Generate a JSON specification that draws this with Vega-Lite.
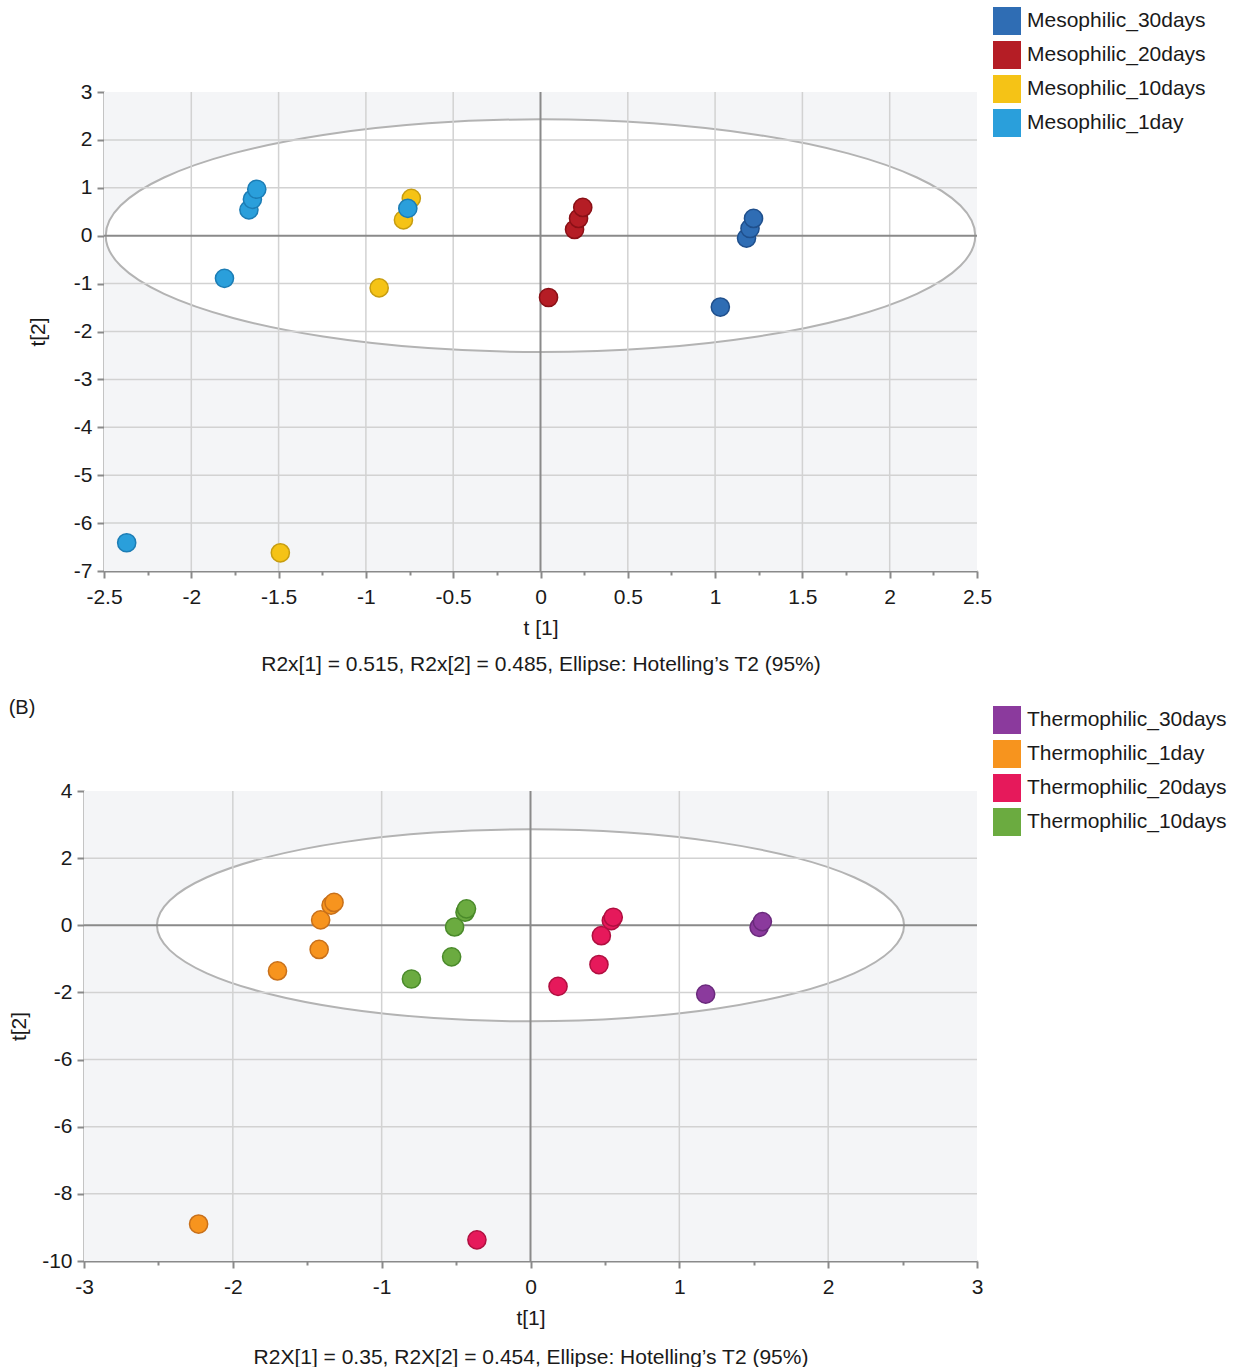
{
  "$schema": "https://vega.github.io/schema/vega-lite/v6.json",
  "padding": {"left": 8, "top": 7, "right": 0, "bottom": 0},
  "spacing": 24,
  "config": {
    "view": {"stroke": null},
    "font": "Liberation Sans",
    "axis": {"labelFont": "Liberation Sans", "titleFont": "Liberation Sans", "labelFontSize": 21, "titleFontSize": 21, "titleFontWeight": "normal", "labelColor": "#1a1a1a", "titleColor": "#1a1a1a", "domainColor": "#8a8a8a", "domainWidth": 2, "tickColor": "#8a8a8a", "tickWidth": 2, "grid": false, "labelFlush": false, "labelOverlap": false}
  },
  "datasets": {
    "bgA": [{"x": -2.5, "x2": 2.5, "y": -7, "y2": 3}],
    "bgB": [{"x": -3, "x2": 3, "y": -10, "y2": 4}],
    "ellA": [
      {"i": 0, "x": 2.49, "y": 0}, {"i": 1, "x": 2.405, "y": 0.629}, {"i": 2, "x": 2.156, "y": 1.215}, {"i": 3, "x": 1.761, "y": 1.718},
      {"i": 4, "x": 1.245, "y": 2.104}, {"i": 5, "x": 0.644, "y": 2.347}, {"i": 6, "x": 0, "y": 2.43}, {"i": 7, "x": -0.644, "y": 2.347},
      {"i": 8, "x": -1.245, "y": 2.104}, {"i": 9, "x": -1.761, "y": 1.718}, {"i": 10, "x": -2.156, "y": 1.215}, {"i": 11, "x": -2.405, "y": 0.629},
      {"i": 12, "x": -2.49, "y": 0}, {"i": 13, "x": -2.405, "y": -0.629}, {"i": 14, "x": -2.156, "y": -1.215}, {"i": 15, "x": -1.761, "y": -1.718},
      {"i": 16, "x": -1.245, "y": -2.104}, {"i": 17, "x": -0.644, "y": -2.347}, {"i": 18, "x": 0, "y": -2.43}, {"i": 19, "x": 0.644, "y": -2.347},
      {"i": 20, "x": 1.245, "y": -2.104}, {"i": 21, "x": 1.761, "y": -1.718}, {"i": 22, "x": 2.156, "y": -1.215}, {"i": 23, "x": 2.405, "y": -0.629}
    ],
    "ellB": [
      {"i": 0, "x": 2.51, "y": 0}, {"i": 1, "x": 2.424, "y": 0.74}, {"i": 2, "x": 2.174, "y": 1.43}, {"i": 3, "x": 1.775, "y": 2.022},
      {"i": 4, "x": 1.255, "y": 2.477}, {"i": 5, "x": 0.65, "y": 2.762}, {"i": 6, "x": 0, "y": 2.86}, {"i": 7, "x": -0.65, "y": 2.762},
      {"i": 8, "x": -1.255, "y": 2.477}, {"i": 9, "x": -1.775, "y": 2.022}, {"i": 10, "x": -2.174, "y": 1.43}, {"i": 11, "x": -2.424, "y": 0.74},
      {"i": 12, "x": -2.51, "y": 0}, {"i": 13, "x": -2.424, "y": -0.74}, {"i": 14, "x": -2.174, "y": -1.43}, {"i": 15, "x": -1.775, "y": -2.022},
      {"i": 16, "x": -1.255, "y": -2.477}, {"i": 17, "x": -0.65, "y": -2.762}, {"i": 18, "x": 0, "y": -2.86}, {"i": 19, "x": 0.65, "y": -2.762},
      {"i": 20, "x": 1.255, "y": -2.477}, {"i": 21, "x": 1.775, "y": -2.022}, {"i": 22, "x": 2.174, "y": -1.43}, {"i": 23, "x": 2.424, "y": -0.74}
    ],
    "vgridA": [{"x": -2}, {"x": -1.5}, {"x": -1}, {"x": -0.5}, {"x": 0.5}, {"x": 1}, {"x": 1.5}, {"x": 2}],
    "hgridA": [{"y": -6}, {"y": -5}, {"y": -4}, {"y": -3}, {"y": -2}, {"y": -1}, {"y": 1}, {"y": 2}],
    "vgridB": [{"x": -2}, {"x": -1}, {"x": 1}, {"x": 2}],
    "hgridB": [{"y": -8}, {"y": -6}, {"y": -4}, {"y": -2}, {"y": 2}],
    "zero": [{"v": 0}],
    "ptsA": [
      {"group": "Mesophilic_1day", "x": -1.81, "y": -0.89},
      {"group": "Mesophilic_1day", "x": -1.67, "y": 0.54},
      {"group": "Mesophilic_1day", "x": -1.65, "y": 0.76},
      {"group": "Mesophilic_1day", "x": -1.625, "y": 0.97},
      {"group": "Mesophilic_1day", "x": -2.37, "y": -6.41},
      {"group": "Mesophilic_10days", "x": -0.924, "y": -1.09},
      {"group": "Mesophilic_10days", "x": -0.785, "y": 0.33},
      {"group": "Mesophilic_10days", "x": -0.74, "y": 0.78},
      {"group": "Mesophilic_10days", "x": -1.49, "y": -6.62},
      {"group": "Mesophilic_1day", "x": -0.76, "y": 0.57},
      {"group": "Mesophilic_20days", "x": 0.046, "y": -1.29},
      {"group": "Mesophilic_20days", "x": 0.195, "y": 0.13},
      {"group": "Mesophilic_20days", "x": 0.218, "y": 0.36},
      {"group": "Mesophilic_20days", "x": 0.242, "y": 0.59},
      {"group": "Mesophilic_30days", "x": 1.03, "y": -1.49},
      {"group": "Mesophilic_30days", "x": 1.18, "y": -0.05},
      {"group": "Mesophilic_30days", "x": 1.2, "y": 0.15},
      {"group": "Mesophilic_30days", "x": 1.22, "y": 0.36}
    ],
    "ptsB": [
      {"group": "Thermophilic_1day", "x": -2.23, "y": -8.9},
      {"group": "Thermophilic_1day", "x": -1.7, "y": -1.36},
      {"group": "Thermophilic_1day", "x": -1.42, "y": -0.72},
      {"group": "Thermophilic_1day", "x": -1.41, "y": 0.16},
      {"group": "Thermophilic_1day", "x": -1.34, "y": 0.6},
      {"group": "Thermophilic_1day", "x": -1.32, "y": 0.68},
      {"group": "Thermophilic_10days", "x": -0.8, "y": -1.6},
      {"group": "Thermophilic_10days", "x": -0.53, "y": -0.94},
      {"group": "Thermophilic_10days", "x": -0.51, "y": -0.05},
      {"group": "Thermophilic_10days", "x": -0.44, "y": 0.39},
      {"group": "Thermophilic_10days", "x": -0.43, "y": 0.49},
      {"group": "Thermophilic_20days", "x": -0.36, "y": -9.37},
      {"group": "Thermophilic_20days", "x": 0.185, "y": -1.82},
      {"group": "Thermophilic_20days", "x": 0.46, "y": -1.17},
      {"group": "Thermophilic_20days", "x": 0.476, "y": -0.31},
      {"group": "Thermophilic_20days", "x": 0.543, "y": 0.14},
      {"group": "Thermophilic_20days", "x": 0.556, "y": 0.24},
      {"group": "Thermophilic_30days", "x": 1.177, "y": -2.05},
      {"group": "Thermophilic_30days", "x": 1.536, "y": -0.06},
      {"group": "Thermophilic_30days", "x": 1.558, "y": 0.11}
    ]
  },
  "vconcat": [
    {
      "width": 893,
      "height": 479,
      "layer": [
        {
          "data": {"name": "bgA"},
          "mark": {"type": "rect", "fill": "#f4f5f7"},
          "encoding": {
            "x": {"field": "x", "type": "quantitative",
              "scale": {"domain": [-2.5, 2.5], "range": [20, 893], "nice": false, "zero": false},
              "axis": {
                "title": ["t [1]", "R2x[1] = 0.515, R2x[2] = 0.485, Ellipse: Hotelling’s T2 (95%)"],
                "titleLineHeight": 36, "titlePadding": 10, "labelPadding": 8,
                "values": [-2.5, -2.25, -2, -1.75, -1.5, -1.25, -1, -0.75, -0.5, -0.25, 0, 0.25, 0.5, 0.75, 1, 1.25, 1.5, 1.75, 2, 2.25, 2.5],
                "labelExpr": "datum.value % 0.5 == 0 ? toString(datum.value) : ''",
                "tickSize": {"condition": {"test": "datum.value % 0.5 == 0", "value": 7}, "value": 4}
              }},
            "x2": {"field": "x2"},
            "y": {"field": "y", "type": "quantitative",
              "scale": {"domain": [-7, 3], "nice": false, "zero": false},
              "axis": {
                "title": "t[2]", "offset": -20, "titlePadding": 25, "labelPadding": 5,
                "values": [-7, -6.5, -6, -5.5, -5, -4.5, -4, -3.5, -3, -2.5, -2, -1.5, -1, -0.5, 0, 0.5, 1, 1.5, 2, 2.5, 3],
                "labelExpr": "datum.value % 1 == 0 ? toString(datum.value) : ''",
                "tickSize": {"condition": {"test": "datum.value % 1 == 0", "value": 7}, "value": 4}
              }},
            "y2": {"field": "y2"}
          }
        },
        {
          "data": {"name": "ellA"},
          "mark": {"type": "line", "fill": "#ffffff", "stroke": "#b3b3b3", "strokeWidth": 2, "interpolate": "cardinal-closed"},
          "encoding": {
            "x": {"field": "x", "type": "quantitative"},
            "y": {"field": "y", "type": "quantitative"},
            "order": {"field": "i", "type": "quantitative"}
          }
        },
        {
          "data": {"name": "vgridA"},
          "mark": {"type": "rule", "stroke": "#d2d2d2", "strokeWidth": 1.5},
          "encoding": {"x": {"field": "x", "type": "quantitative"}}
        },
        {
          "data": {"name": "hgridA"},
          "mark": {"type": "rule", "stroke": "#d2d2d2", "strokeWidth": 1.5},
          "encoding": {
            "y": {"field": "y", "type": "quantitative"},
            "x": {"datum": -2.5, "type": "quantitative"},
            "x2": {"datum": 2.5}
          }
        },
        {
          "data": {"name": "zero"},
          "mark": {"type": "rule", "stroke": "#8a8a8a", "strokeWidth": 2},
          "encoding": {"x": {"field": "v", "type": "quantitative"}}
        },
        {
          "data": {"name": "zero"},
          "mark": {"type": "rule", "stroke": "#8a8a8a", "strokeWidth": 2},
          "encoding": {
            "y": {"field": "v", "type": "quantitative"},
            "x": {"datum": -2.5, "type": "quantitative"},
            "x2": {"datum": 2.5}
          }
        },
        {
          "data": {"name": "ptsA"},
          "mark": {"type": "point", "shape": "circle", "filled": true, "opacity": 1, "size": 330, "strokeWidth": 1.5},
          "encoding": {
            "x": {"field": "x", "type": "quantitative"},
            "y": {"field": "y", "type": "quantitative"},
            "fill": {"field": "group", "type": "nominal",
              "scale": {"domain": ["Mesophilic_30days", "Mesophilic_20days", "Mesophilic_10days", "Mesophilic_1day"], "range": ["#2f6db4", "#b51d25", "#f5c316", "#2a9fdb"]},
              "legend": {"orient": "none", "legendX": 909, "legendY": -85, "title": null, "symbolType": "square", "symbolSize": 784, "symbolStrokeWidth": 0, "symbolOpacity": 1, "labelFont": "Liberation Sans", "labelFontSize": 21, "labelColor": "#1a1a1a", "labelLimit": 400, "rowPadding": 6, "labelOffset": 6, "padding": 0}},
            "stroke": {"field": "group", "type": "nominal", "legend": null,
              "scale": {"domain": ["Mesophilic_30days", "Mesophilic_20days", "Mesophilic_10days", "Mesophilic_1day"], "range": ["#1f4f8c", "#8a1016", "#c79d10", "#1c7db5"]}}
          }
        }
      ]
    },
    {
      "width": 893,
      "height": 470,
      "title": {"text": "(B)", "anchor": "start", "fontSize": 20, "fontWeight": "normal", "font": "Liberation Sans", "color": "#1a1a1a", "offset": -12},
      "layer": [
        {
          "data": {"name": "bgB"},
          "mark": {"type": "rect", "fill": "#f4f5f7"},
          "encoding": {
            "x": {"field": "x", "type": "quantitative",
              "scale": {"domain": [-3, 3], "nice": false, "zero": false},
              "axis": {
                "title": ["t[1]", "R2X[1] = 0.35, R2X[2] = 0.454, Ellipse: Hotelling’s T2 (95%)"],
                "titleLineHeight": 39, "titlePadding": 10, "labelPadding": 8,
                "values": [-3, -2.5, -2, -1.5, -1, -0.5, 0, 0.5, 1, 1.5, 2, 2.5, 3],
                "labelExpr": "datum.value % 1 == 0 ? toString(datum.value) : ''",
                "tickSize": {"condition": {"test": "datum.value % 1 == 0", "value": 7}, "value": 4}
              }},
            "x2": {"field": "x2"},
            "y": {"field": "y", "type": "quantitative",
              "scale": {"domain": [-10, 4], "nice": false, "zero": false},
              "axis": {
                "title": "t[2]", "titlePadding": 12, "labelPadding": 5,
                "values": [-10, -9, -8, -7, -6, -5, -4, -3, -2, -1, 0, 1, 2, 3, 4],
                "labelExpr": "datum.value % 2 == 0 ? (datum.value == -4 ? '-6' : toString(datum.value)) : ''",
                "tickSize": {"condition": {"test": "datum.value % 2 == 0", "value": 7}, "value": 4}
              }},
            "y2": {"field": "y2"}
          }
        },
        {
          "data": {"name": "ellB"},
          "mark": {"type": "line", "fill": "#ffffff", "stroke": "#b3b3b3", "strokeWidth": 2, "interpolate": "cardinal-closed"},
          "encoding": {
            "x": {"field": "x", "type": "quantitative"},
            "y": {"field": "y", "type": "quantitative"},
            "order": {"field": "i", "type": "quantitative"}
          }
        },
        {
          "data": {"name": "vgridB"},
          "mark": {"type": "rule", "stroke": "#d2d2d2", "strokeWidth": 1.5},
          "encoding": {"x": {"field": "x", "type": "quantitative"}}
        },
        {
          "data": {"name": "hgridB"},
          "mark": {"type": "rule", "stroke": "#d2d2d2", "strokeWidth": 1.5},
          "encoding": {"y": {"field": "y", "type": "quantitative"}}
        },
        {
          "data": {"name": "zero"},
          "mark": {"type": "rule", "stroke": "#8a8a8a", "strokeWidth": 2},
          "encoding": {"x": {"field": "v", "type": "quantitative"}}
        },
        {
          "data": {"name": "zero"},
          "mark": {"type": "rule", "stroke": "#8a8a8a", "strokeWidth": 2},
          "encoding": {"y": {"field": "v", "type": "quantitative"}}
        },
        {
          "data": {"name": "ptsB"},
          "mark": {"type": "point", "shape": "circle", "filled": true, "opacity": 1, "size": 330, "strokeWidth": 1.5},
          "encoding": {
            "x": {"field": "x", "type": "quantitative"},
            "y": {"field": "y", "type": "quantitative"},
            "fill": {"field": "group", "type": "nominal",
              "scale": {"domain": ["Thermophilic_30days", "Thermophilic_1day", "Thermophilic_20days", "Thermophilic_10days"], "range": ["#8b3a9d", "#f7941e", "#e6195b", "#6bab40"]},
              "legend": {"orient": "none", "legendX": 909, "legendY": -85, "title": null, "symbolType": "square", "symbolSize": 784, "symbolStrokeWidth": 0, "symbolOpacity": 1, "labelFont": "Liberation Sans", "labelFontSize": 21, "labelColor": "#1a1a1a", "labelLimit": 400, "rowPadding": 6, "labelOffset": 6, "padding": 0}},
            "stroke": {"field": "group", "type": "nominal", "legend": null,
              "scale": {"domain": ["Thermophilic_30days", "Thermophilic_1day", "Thermophilic_20days", "Thermophilic_10days"], "range": ["#6a2a7c", "#c8701a", "#b00f40", "#4a8a2a"]}}
          }
        }
      ]
    }
  ],
  "resolve": {"scale": {"fill": "independent", "stroke": "independent"}, "legend": {"fill": "independent"}}
}
